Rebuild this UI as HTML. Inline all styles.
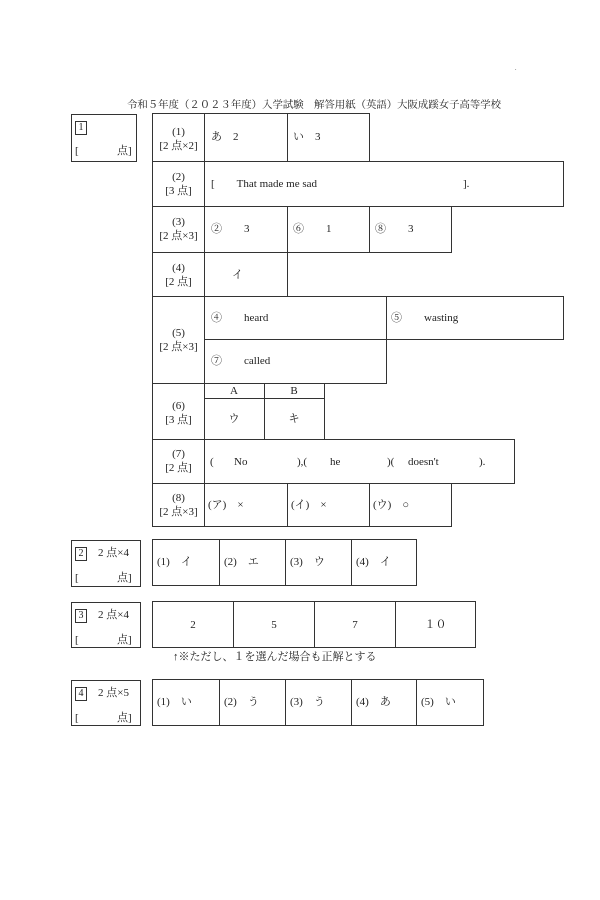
<!DOCTYPE html>
<html><head><meta charset="utf-8"><style>
body{margin:0;background:#fff;}
#p{position:relative;width:600px;height:900px;overflow:hidden;font-family:"Liberation Serif","Noto Serif CJK JP",serif;font-size:11px;color:#222;}
.b{position:absolute;border:1px solid #333;box-sizing:border-box;}
.t{position:absolute;white-space:nowrap;line-height:1;}
.c{text-align:center;}
.sq{display:inline-block;border:1px solid #333;width:10px;height:12px;line-height:12px;text-align:center;font-size:10px;}
</style></head><body><div id="p">
<div class="t" style="left:515px;top:66px;font-size:6px">.</div>
<div class="t" style="left:127px;top:101px;font-size:10.4px">令和５年度（２０２３年度）入学試験　解答用紙（英語）大阪成蹊女子高等学校</div>

<div class="b" style="left:71px;top:114px;width:66px;height:48px"></div>
<div class="t" style="left:75px;top:121px"><span class="sq">1</span></div>
<div class="t" style="left:75px;top:146px">[</div><div class="t" style="left:117px;top:146px">点]</div>

<div class="b" style="left:152px;top:113px;width:53px;height:49px"></div>
<div class="b" style="left:152px;top:161px;width:53px;height:46px"></div>
<div class="b" style="left:152px;top:206px;width:53px;height:47px"></div>
<div class="b" style="left:152px;top:252px;width:53px;height:45px"></div>
<div class="b" style="left:152px;top:296px;width:53px;height:88px"></div>
<div class="b" style="left:152px;top:383px;width:53px;height:57px"></div>
<div class="b" style="left:152px;top:439px;width:53px;height:45px"></div>
<div class="b" style="left:152px;top:483px;width:53px;height:44px"></div>
<div class="t c" style="left:152px;top:125px;width:53px;line-height:14px">(1)<br>[2 点×2]</div>
<div class="t c" style="left:152px;top:170px;width:53px;line-height:14px">(2)<br>[3 点]</div>
<div class="t c" style="left:152px;top:215px;width:53px;line-height:14px">(3)<br>[2 点×3]</div>
<div class="t c" style="left:152px;top:261px;width:53px;line-height:14px">(4)<br>[2 点]</div>
<div class="t c" style="left:152px;top:326px;width:53px;line-height:14px">(5)<br>[2 点×3]</div>
<div class="t c" style="left:152px;top:399px;width:53px;line-height:14px">(6)<br>[3 点]</div>
<div class="t c" style="left:152px;top:447px;width:53px;line-height:14px">(7)<br>[2 点]</div>
<div class="t c" style="left:152px;top:491px;width:53px;line-height:14px">(8)<br>[2 点×3]</div>

<div class="b" style="left:204px;top:113px;width:84px;height:49px"></div>
<div class="b" style="left:287px;top:113px;width:83px;height:49px"></div>
<div class="t" style="left:211px;top:132px">あ　2</div>
<div class="t" style="left:293px;top:132px">い　3</div>
<div class="b" style="left:204px;top:161px;width:360px;height:46px"></div>
<div class="t" style="left:211px;top:179px">[　　That made me sad</div>
<div class="t" style="left:463px;top:179px">].</div>
<div class="b" style="left:204px;top:206px;width:84px;height:47px"></div>
<div class="b" style="left:287px;top:206px;width:83px;height:47px"></div>
<div class="b" style="left:369px;top:206px;width:83px;height:47px"></div>
<div class="t" style="left:211px;top:224px">②　　3</div>
<div class="t" style="left:293px;top:224px">⑥　　1</div>
<div class="t" style="left:375px;top:224px">⑧　　3</div>
<div class="b" style="left:204px;top:252px;width:84px;height:45px"></div>
<div class="t" style="left:232px;top:270px">イ</div>
<div class="b" style="left:204px;top:296px;width:183px;height:44px"></div>
<div class="b" style="left:386px;top:296px;width:178px;height:44px"></div>
<div class="b" style="left:204px;top:339px;width:183px;height:45px"></div>
<div class="t" style="left:211px;top:313px">④　　heard</div>
<div class="t" style="left:391px;top:313px">⑤　　wasting</div>
<div class="t" style="left:211px;top:356px">⑦　　called</div>
<div class="b" style="left:204px;top:383px;width:61px;height:16px"></div>
<div class="b" style="left:264px;top:383px;width:61px;height:16px"></div>
<div class="b" style="left:204px;top:398px;width:61px;height:42px"></div>
<div class="b" style="left:264px;top:398px;width:61px;height:42px"></div>
<div class="t c" style="left:204px;top:386px;width:60px">A</div>
<div class="t c" style="left:264px;top:386px;width:60px">B</div>
<div class="t c" style="left:204px;top:414px;width:60px">ウ</div>
<div class="t c" style="left:264px;top:414px;width:60px">キ</div>
<div class="b" style="left:204px;top:439px;width:311px;height:45px"></div>
<div class="t" style="left:210px;top:457px">(</div><div class="t" style="left:234px;top:457px">No</div>
<div class="t" style="left:297px;top:457px">),(</div><div class="t" style="left:330px;top:457px">he</div>
<div class="t" style="left:387px;top:457px">)(</div><div class="t" style="left:408px;top:457px">doesn't</div>
<div class="t" style="left:479px;top:457px">).</div>
<div class="b" style="left:204px;top:483px;width:84px;height:44px"></div>
<div class="b" style="left:287px;top:483px;width:83px;height:44px"></div>
<div class="b" style="left:369px;top:483px;width:83px;height:44px"></div>
<div class="t" style="left:208px;top:500px">(ア)　×</div>
<div class="t" style="left:291px;top:500px">(イ)　×</div>
<div class="t" style="left:373px;top:500px">(ウ)　○</div>

<div class="b" style="left:71px;top:540px;width:70px;height:47px"></div>
<div class="t" style="left:75px;top:547px"><span class="sq">2</span>　2 点×4</div>
<div class="t" style="left:75px;top:573px">[</div><div class="t" style="left:117px;top:573px">点]</div>
<div class="b" style="left:152px;top:539px;width:68px;height:47px"></div>
<div class="b" style="left:219px;top:539px;width:67px;height:47px"></div>
<div class="b" style="left:285px;top:539px;width:67px;height:47px"></div>
<div class="b" style="left:351px;top:539px;width:66px;height:47px"></div>
<div class="t" style="left:157px;top:557px">(1)　イ</div>
<div class="t" style="left:224px;top:557px">(2)　エ</div>
<div class="t" style="left:290px;top:557px">(3)　ウ</div>
<div class="t" style="left:356px;top:557px">(4)　イ</div>

<div class="b" style="left:71px;top:602px;width:70px;height:46px"></div>
<div class="t" style="left:75px;top:609px"><span class="sq">3</span>　2 点×4</div>
<div class="t" style="left:75px;top:635px">[</div><div class="t" style="left:117px;top:635px">点]</div>
<div class="b" style="left:152px;top:601px;width:82px;height:47px"></div>
<div class="b" style="left:233px;top:601px;width:82px;height:47px"></div>
<div class="b" style="left:314px;top:601px;width:82px;height:47px"></div>
<div class="b" style="left:395px;top:601px;width:81px;height:47px"></div>
<div class="t c" style="left:152px;top:620px;width:82px">2</div>
<div class="t c" style="left:233px;top:620px;width:82px">5</div>
<div class="t c" style="left:314px;top:620px;width:82px">7</div>
<div class="t c" style="left:395px;top:620px;width:81px">１０</div>
<div class="t" style="left:173px;top:652px">↑※ただし、１を選んだ場合も正解とする</div>

<div class="b" style="left:71px;top:680px;width:70px;height:46px"></div>
<div class="t" style="left:75px;top:687px"><span class="sq">4</span>　2 点×5</div>
<div class="t" style="left:75px;top:713px">[</div><div class="t" style="left:117px;top:713px">点]</div>
<div class="b" style="left:152px;top:679px;width:68px;height:47px"></div>
<div class="b" style="left:219px;top:679px;width:67px;height:47px"></div>
<div class="b" style="left:285px;top:679px;width:67px;height:47px"></div>
<div class="b" style="left:351px;top:679px;width:66px;height:47px"></div>
<div class="b" style="left:416px;top:679px;width:68px;height:47px"></div>
<div class="t" style="left:157px;top:697px">(1)　い</div>
<div class="t" style="left:224px;top:697px">(2)　う</div>
<div class="t" style="left:290px;top:697px">(3)　う</div>
<div class="t" style="left:356px;top:697px">(4)　あ</div>
<div class="t" style="left:421px;top:697px">(5)　い</div>
</div></body></html>
